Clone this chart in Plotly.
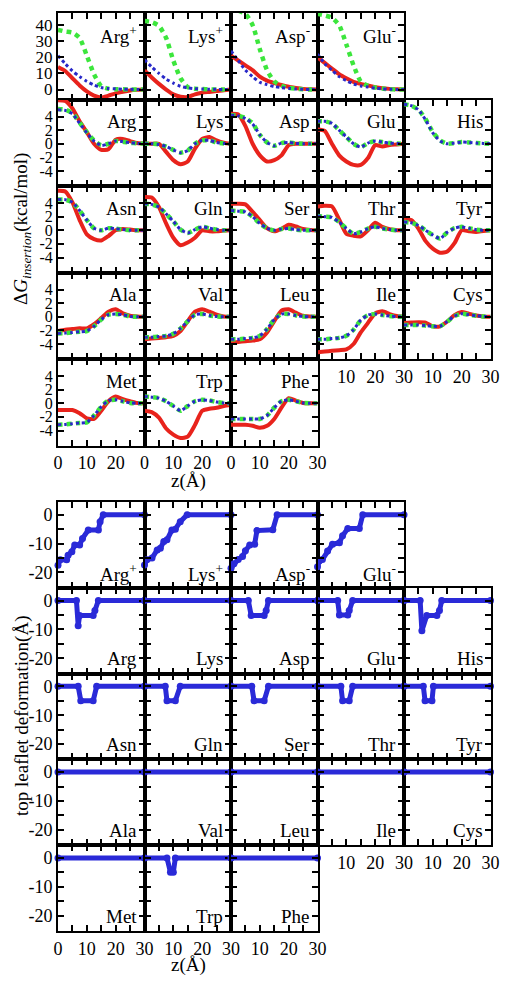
import plotly.graph_objects as go

W, H = 512, 986

# ---------------- data ----------------
Z = [0, 2.5, 5, 7.5, 10, 12.5, 15, 17.5, 20, 22.5, 25, 27.5, 30]

grid = [["Arg+", "Lys+", "Asp-", "Glu-", None],
        ["Arg", "Lys", "Asp", "Glu", "His"],
        ["Asn", "Gln", "Ser", "Thr", "Tyr"],
        ["Ala", "Val", "Leu", "Ile", "Cys"],
        ["Met", "Trp", "Phe", None, None]]

labels = {"Arg+": "Arg<sup>+</sup>", "Lys+": "Lys<sup>+</sup>",
          "Asp-": "Asp<sup>-</sup>", "Glu-": "Glu<sup>-</sup>"}

red_dG = {
    "Arg+": [14, 11.5, 7, 2.5, -1.2, -3.8, -5, -3.8, -2.4, -1.4, -0.6, -0.2, 0],
    "Lys+": [11.8, 7.5, 3.5, 0, -3, -4.5, -4.7, -3, -2, -1.5, -1, -0.4, 0],
    "Asp-": [21, 18, 15, 12, 8, 5.5, 4, 2.8, 1.7, 1, 0.4, 0.1, 0],
    "Glu-": [20, 16.5, 13, 9.5, 7, 4.8, 3.5, 2.5, 1.5, 0.8, 0.4, 0.1, 0],
    "Arg": [6.4, 6.3, 5.2, 3.3, 1.7, 0, -0.9, -0.8, 0.6, 0.7, 0.4, 0.1, 0],
    "Lys": [0, 0, 0, -1.2, -2.4, -3.0, -2.6, -0.7, 0.7, 1.0, 0.5, 0.15, 0],
    "Asp": [4.4, 4.3, 2.6, 0, -1.7, -2.6, -2.4, -1.7, -0.2, 0, 0, 0, 0],
    "Glu": [2.1, 1.9, 0, -1.7, -2.6, -3.1, -3.1, -2.1, -0.2, -0.4, -0.2, -0.1, 0],
    "Asn": [5.8, 5.7, 4.1, 1.5, -0.6, -1.3, -1.5, -0.85, 0, 0.2, 0.1, 0, 0],
    "Gln": [4.9, 4.8, 3.4, 1.0, -1.1, -2.2, -1.8, -1.1, 0, -0.15, -0.15, -0.05, 0],
    "Ser": [3.9, 3.9, 3.8, 2.7, 1.5, 0.3, -0.15, 0.2, 0.8, 0.55, 0.2, 0.05, 0],
    "Thr": [3.5, 3.6, 3.5, 1.6, -0.5, -0.8, -0.9, 0, 1.1, 0.5, 0.15, 0, 0],
    "Tyr": [1.7, 1.5, 0.25, -1.6, -2.7, -3.3, -3.1, -1.9, 0, -0.15, -0.25, -0.1, 0],
    "Ala": [-2.1, -1.9, -1.8, -1.7, -1.7, -1.1, -0.2, 0.75, 1.1, 0.5, 0.15, 0.05, 0],
    "Val": [-3.3, -3.2, -3.1, -3.0, -2.8, -2.1, -0.65, 0.75, 1.1, 0.75, 0.3, 0.05, 0],
    "Leu": [-3.8, -3.7, -3.6, -3.5, -3.3, -2.3, -0.65, 0.9, 1.1, 0.6, 0.15, 0.05, 0],
    "Ile": [-5.2, -5.1, -5.0, -4.9, -4.8, -4.0, -2.3, -0.9, 0.5, 0.8, 0.4, 0.1, 0],
    "Cys": [-0.9, -0.85, -0.8, -0.85, -1.4, -1.4, -0.7, 0.25, 0.7, 0.45, 0.2, 0.05, 0],
    "Met": [-1.0, -1.0, -1.0, -1.45, -2.2, -2.3, -1.1, 0.3, 1.0, 0.6, 0.3, 0.05, 0],
    "Trp": [-1.1, -1.3, -2.1, -3.7, -4.6, -5.1, -4.9, -3.2, -1.1, -0.8, -0.65, -0.4, -0.2],
    "Phe": [-3.15, -3.15, -3.15, -3.3, -3.6, -3.3, -2.3, -0.65, 0.75, 0.4, 0.05, 0, 0],
}

green_dG = {
    "Arg+": [37, 36, 35.3, 32, 21, 9.5, 2, 0.5, 0.2, 0.1, 0, 0, 0],
    "Lys+": [42.5, 41.8, 39.5, 32, 18, 7, 1.5, 0.5, 0.3, 0.1, 0, 0, 0],
    "Asp-": [52, 49, 47, 40, 25, 12, 5, 2.3, 1, 0.5, 0.2, 0, 0],
    "Glu-": [47, 46, 44.5, 40, 28, 15, 5, 2.3, 1.2, 0.6, 0.2, 0, 0],
    "Arg": [5.1, 5.0, 4.5, 3.1, 1.7, 0.5, -0.2, 0, 0.4, 0.3, 0.15, 0.05, 0],
    "Lys": [0, 0, -0.1, -0.4, -0.9, -1.3, -1.0, 0, 0.5, 0.5, 0.2, 0.05, 0],
    "Asp": [4.2, 4.1, 3.8, 3.0, 1.3, 0.2, -0.3, 0.1, 0.2, 0.05, 0, 0, 0],
    "Glu": [3.3, 3.3, 3.0, 2.0, 1.0, 0, -0.5, 0.1, 0.4, 0.25, 0.1, 0.05, 0],
    "His": [5.8, 5.6, 5.0, 3.6, 1.7, 0.5, 0, 0.1, 0.25, 0.2, 0.1, 0.05, 0],
    "Asn": [4.5, 4.5, 4.1, 2.9, 1.5, 0.3, 0, 0.3, 0.25, 0.1, 0, 0, 0],
    "Gln": [3.9, 3.8, 3.4, 2.4, 1.3, 0.1, -0.4, 0.1, 0.5, 0.3, 0.1, 0, 0],
    "Ser": [2.9, 2.8, 2.7, 2.0, 1.0, 0.3, 0, 0.2, 0.25, 0.1, 0, 0, 0],
    "Thr": [2.1, 2.0, 1.9, 1.2, 0.25, -0.5, -0.25, 0.25, 0.5, 0.25, 0.1, 0, 0],
    "Tyr": [1.2, 1.1, 0.7, 0, -0.7, -1.2, -0.3, 0.3, 0.5, 0.3, 0.1, 0, 0],
    "Ala": [-2.45, -2.4, -2.3, -2.2, -2.1, -1.4, -0.4, 0.3, 0.4, 0.3, 0.05, 0, 0],
    "Val": [-3.0, -3.0, -2.9, -2.8, -2.5, -1.7, -0.65, 0.3, 0.4, 0.2, 0.05, 0, 0],
    "Leu": [-3.3, -3.3, -3.2, -3.1, -2.8, -1.8, -0.4, 0.4, 0.4, 0.2, 0.05, 0, 0],
    "Ile": [-3.3, -3.3, -3.2, -3.1, -2.8, -1.9, -0.5, 0.25, 0.4, 0.25, 0.1, 0, 0],
    "Cys": [-1.2, -1.2, -1.2, -1.3, -1.4, -1.4, -0.7, 0.1, 0.45, 0.3, 0.15, 0.05, 0],
    "Met": [-3.15, -3.1, -3.0, -2.9, -2.8, -1.8, -0.5, 0.4, 0.5, 0.3, 0.05, 0, 0],
    "Trp": [1.0, 0.9, 0.75, 0.3, -0.4, -1.1, -0.4, 0.3, 0.5, 0.4, 0.2, 0.05, 0],
    "Phe": [-2.3, -2.3, -2.3, -2.3, -2.3, -1.8, -0.65, 0.3, 0.5, 0.3, 0.05, 0, 0],
}

blue_dG = {
    "Arg+": [21, 16, 11.5, 8, 5, 2.8, 1.2, 0.6, 0.4, 0.2, 0.1, 0, 0],
    "Lys+": [18.5, 14, 10, 6.5, 4, 2, 1, 0.5, 0.3, 0.2, 0.1, 0, 0],
    "Asp-": [24, 18, 12, 8, 4.5, 3, 1.8, 1.2, 0.7, 0.3, 0.1, 0, 0],
    "Glu-": [22, 16, 12, 8, 5.5, 3.5, 2.2, 1.5, 0.8, 0.4, 0.2, 0, 0],
    "Arg": [5.0, 4.9, 4.4, 3.0, 1.6, 0.4, -0.25, 0, 0.4, 0.3, 0.15, 0.05, 0],
    "Lys": [0, 0, -0.1, -0.4, -0.9, -1.3, -1.0, 0, 0.5, 0.5, 0.2, 0.05, 0],
    "Asp": [4.2, 4.1, 3.7, 2.9, 1.3, 0.2, -0.3, 0.1, 0.2, 0.05, 0, 0, 0],
    "Glu": [3.3, 3.3, 3.0, 2.0, 1.0, 0, -0.5, 0.1, 0.4, 0.25, 0.1, 0.05, 0],
    "His": [5.8, 5.6, 5.0, 3.5, 1.6, 0.4, 0, 0.1, 0.25, 0.2, 0.1, 0.05, 0],
    "Asn": [4.5, 4.5, 4.1, 2.9, 1.5, 0.3, 0, 0.3, 0.25, 0.1, 0, 0, 0],
    "Gln": [3.9, 3.8, 3.4, 2.4, 1.3, 0.1, -0.4, 0.1, 0.5, 0.3, 0.1, 0, 0],
    "Ser": [2.9, 2.8, 2.7, 2.0, 1.0, 0.3, 0, 0.2, 0.25, 0.1, 0, 0, 0],
    "Thr": [2.1, 2.0, 1.9, 1.2, 0.25, -0.5, -0.25, 0.25, 0.5, 0.25, 0.1, 0, 0],
    "Tyr": [1.2, 1.1, 0.7, 0, -0.7, -1.2, -0.3, 0.3, 0.5, 0.3, 0.1, 0, 0],
    "Ala": [-2.45, -2.4, -2.3, -2.2, -2.1, -1.4, -0.4, 0.3, 0.4, 0.3, 0.05, 0, 0],
    "Val": [-3.0, -3.0, -2.9, -2.8, -2.5, -1.7, -0.65, 0.3, 0.4, 0.2, 0.05, 0, 0],
    "Leu": [-3.3, -3.3, -3.2, -3.1, -2.8, -1.8, -0.4, 0.4, 0.4, 0.2, 0.05, 0, 0],
    "Ile": [-3.3, -3.3, -3.2, -3.1, -2.8, -1.9, -0.5, 0.25, 0.4, 0.25, 0.1, 0, 0],
    "Cys": [-1.2, -1.2, -1.2, -1.3, -1.4, -1.4, -0.7, 0.1, 0.45, 0.3, 0.15, 0.05, 0],
    "Met": [-3.15, -3.1, -3.0, -2.9, -2.8, -1.8, -0.5, 0.4, 0.5, 0.3, 0.05, 0, 0],
    "Trp": [1.0, 0.9, 0.75, 0.3, -0.4, -1.1, -0.4, 0.3, 0.5, 0.4, 0.2, 0.05, 0],
    "Phe": [-2.3, -2.3, -2.3, -2.3, -2.3, -1.8, -0.65, 0.3, 0.5, 0.3, 0.05, 0, 0],
}

defo_x = {
    "Arg+": [0, 0.8, 3, 3.5, 4.8, 5.8, 7.5, 8.5, 10.5, 14, 14.6, 15.7, 30],
    "Lys+": [0, 0.8, 2.6, 4.4, 5.5, 6.7, 7.8, 9.5, 10.7, 12.4, 14.8, 30],
    "Asp-": [0, 1, 2.5, 4, 5, 6.5, 8.2, 9, 14.5, 16, 30],
    "Glu-": [0, 0.6, 1.7, 3.5, 5.2, 7.6, 8.7, 10.5, 14.5, 15.7, 30],
    "Arg": [0, 6.4, 7, 7.5, 12.2, 12.8, 14, 30],
    "Lys": [0, 30],
    "Asp": [0, 6, 7, 11.5, 12.2, 13, 30],
    "Glu": [0, 7, 7.6, 10.5, 11, 12.2, 30],
    "His": [0, 5.6, 6.2, 7.9, 11.4, 12.3, 13.1, 30],
    "Asn": [0, 7, 7.9, 12.2, 13.4, 30],
    "Gln": [0, 7.2, 7.8, 10.7, 12.4, 30],
    "Ser": [0, 7.2, 8, 11.5, 13, 30],
    "Thr": [0, 8.1, 8.7, 11, 12.2, 30],
    "Tyr": [0, 6.7, 7.3, 9.7, 10.2, 30],
    "Ala": [0, 30], "Val": [0, 30], "Leu": [0, 30], "Ile": [0, 30], "Cys": [0, 30],
    "Met": [0, 30],
    "Trp": [0, 7.8, 9, 10, 10.7, 30],
    "Phe": [0, 30],
}
defo_y = {
    "Arg+": [-17.5, -15.6, -15.6, -14, -12.8, -10.5, -10.5, -8.2, -5.3, -5.3, -2.4, 0, 0],
    "Lys+": [-17.4, -15.6, -15, -12.2, -11.6, -9.3, -8.7, -5.3, -5, -2.4, 0, 0],
    "Asp-": [-18.5, -17, -15.5, -14.5, -12.5, -10.5, -10.2, -5.5, -5.2, 0, 0],
    "Glu-": [-18, -16, -15.5, -12.6, -10.2, -9.7, -7.3, -4.8, -4.8, 0, 0],
    "Arg": [0, 0, -8.7, -5.2, -5.2, -3.5, 0, 0],
    "Lys": [0, 0],
    "Asp": [0, 0, -5.2, -5.2, -3.5, 0, 0],
    "Glu": [0, 0, -5, -5, -3.5, 0, 0],
    "His": [0, 0, -10.5, -5.2, -5.2, -3.5, 0, 0],
    "Asn": [0, 0, -5, -5, 0, 0],
    "Gln": [0, 0, -5, -5, 0, 0],
    "Ser": [0, 0, -5, -5, 0, 0],
    "Thr": [0, 0, -5, -5, 0, 0],
    "Tyr": [0, 0, -5, -5, 0, 0],
    "Ala": [0, 0], "Val": [0, 0], "Leu": [0, 0], "Ile": [0, 0], "Cys": [0, 0],
    "Met": [0, 0],
    "Trp": [0, 0, -5, -5, 0, 0],
    "Phe": [0, 0],
}

x_tickvals = [0, 5, 10, 15, 20, 25, 30]
y_top_vals = [0, 10, 20, 30, 40]
y_top_text = ["0", "10", "20", "30", "40"]
y_mid_vals = [-4, -2, 0, 2, 4]
y_mid_text = ["-4", "-2", "0", "2", "4"]
y_def_vals = [-20, -15, -10, -5, 0]
y_def_text = ["-20", " ", "-10", " ", "0"]

# x tick labels on the lowest panels
top_xlab = {"Met": ["0", " ", "10", " ", "20", " ", " "],
            "Trp": ["0", " ", "10", " ", "20", " ", " "],
            "Phe": ["0", " ", "10", " ", "20", " ", "30"],
            "Ile": [" ", " ", "10", " ", "20", " ", "30"],
            "Cys": [" ", " ", "10", " ", "20", " ", "30"]}
bot_xlab = {"Met": ["0", " ", "10", " ", "20", " ", "30"],
            "Trp": [" ", " ", "10", " ", "20", " ", "30"],
            "Phe": [" ", " ", "10", " ", "20", " ", "30"],
            "Ile": [" ", " ", "10", " ", "20", " ", "30"],
            "Cys": [" ", " ", "10", " ", "20", " ", "30"]}

# ---------------- figure ----------------
FONT = "Liberation Serif"
RED = "#e8231c"
GREEN = "#3ce63c"
BLUE = "#2828c8"
DBLUE = "#2a2ad8"

col_x = [58 + i * 86.5 for i in range(6)]
top_y = [13 + j * 86.5 for j in range(6)]
bot_y = [502 + j * 85.8 for j in range(6)]

fig = go.Figure()
ax = 0
annotations = []


def axis_common(fs=18):
    return dict(showline=True, linecolor="black", linewidth=2, mirror="ticks",
                ticks="inside", ticklen=6, tickwidth=2, tickcolor="black",
                showgrid=False, zeroline=False, automargin=False,
                tickfont=dict(family=FONT, size=fs, color="black"))


for part in ("top", "bot"):
    rows_y = top_y if part == "top" else bot_y
    for r in range(5):
        for c in range(5):
            name = grid[r][c]
            if name is None:
                continue
            ax += 1
            xa = "x" if ax == 1 else f"x{ax}"
            ya = "y" if ax == 1 else f"y{ax}"
            x0, x1 = col_x[c], col_x[c + 1]
            y0, y1 = rows_y[r], rows_y[r + 1]
            xd = dict(axis_common(18), domain=[x0 / W, x1 / W], range=[0, 30],
                      anchor=ya, tickvals=x_tickvals, ticklabelstandoff=0)
            labmap = top_xlab if part == "top" else bot_xlab
            if name in labmap:
                xd["ticktext"] = labmap[name]
                xd["showticklabels"] = True
            else:
                xd["showticklabels"] = False
            if part == "top":
                fs = 17 if r == 0 else 16
            else:
                fs = 18
            yd = dict(axis_common(fs), domain=[1 - y1 / H, 1 - y0 / H], anchor=xa,
                      ticklabelstandoff=0)
            if part == "top":
                if r == 0:
                    yd.update(range=[-6.2, 47.5], tickvals=y_top_vals, ticktext=y_top_text)
                else:
                    yd.update(range=[-6.2, 6.5], tickvals=y_mid_vals, ticktext=y_mid_text)
            else:
                yd.update(range=[-25.3, 4.4], tickvals=y_def_vals, ticktext=y_def_text)
            yd["showticklabels"] = (c == 0)
            fig.update_layout(**{("xaxis" if ax == 1 else f"xaxis{ax}"): xd,
                                 ("yaxis" if ax == 1 else f"yaxis{ax}"): yd})

            disp = labels.get(name, name)
            if part == "top":
                if name in red_dG:
                    fig.add_trace(go.Scatter(x=Z, y=red_dG[name], mode="lines",
                                             line=dict(color=RED, width=4, shape="spline", smoothing=0.6),
                                             xaxis=xa, yaxis=ya, showlegend=False))
                fig.add_trace(go.Scatter(x=Z, y=green_dG[name], mode="lines",
                                         line=dict(color=GREEN, width=4.5, dash="dot", shape="spline", smoothing=0.6),
                                         xaxis=xa, yaxis=ya, showlegend=False))
                fig.add_trace(go.Scatter(x=Z, y=blue_dG[name], mode="lines",
                                         line=dict(color=BLUE, width=3, dash="dot", shape="spline", smoothing=0.6),
                                         xaxis=xa, yaxis=ya, showlegend=False))
                annotations.append(dict(x=(x1 - 6) / W, y=1 - (y0 + 22) / H, xref="paper", yref="paper",
                                        text=disp, showarrow=False, xanchor="right", yanchor="middle",
                                        font=dict(family=FONT, size=19, color="black")))
            else:
                fig.add_trace(go.Scatter(x=defo_x[name], y=defo_y[name], mode="lines+markers",
                                         line=dict(color=DBLUE, width=5),
                                         marker=dict(color=DBLUE, size=7),
                                         cliponaxis=False,
                                         xaxis=xa, yaxis=ya, showlegend=False))
                annotations.append(dict(x=(x1 - 6) / W, y=1 - (y1 - 15) / H, xref="paper", yref="paper",
                                        text=disp, showarrow=False, xanchor="right", yanchor="middle",
                                        font=dict(family=FONT, size=19, color="black")))

annotations += [
    dict(x=22 / W, y=1 - 229 / H, xref="paper", yref="paper",
         text="\u0394<i>G</i><sub><i>insertion</i></sub>(kcal/mol)", textangle=-90,
         xanchor="center", yanchor="middle",
         showarrow=False, font=dict(family=FONT, size=19, color="black")),
    dict(x=188 / W, y=1 - 481 / H, xref="paper", yref="paper", text="z(\u00c5)",
         xanchor="center", yanchor="middle",
         showarrow=False, font=dict(family=FONT, size=19, color="black")),
    dict(x=22 / W, y=1 - 716 / H, xref="paper", yref="paper",
         text="top leaflet deformation(\u00c5)", textangle=-90,
         xanchor="center", yanchor="middle",
         showarrow=False, font=dict(family=FONT, size=19, color="black")),
    dict(x=188 / W, y=1 - 965 / H, xref="paper", yref="paper", text="z(\u00c5)",
         xanchor="center", yanchor="middle",
         showarrow=False, font=dict(family=FONT, size=19, color="black")),
]

fig.update_layout(width=W, height=H, margin=dict(l=0, r=0, t=0, b=0),
                  paper_bgcolor="white", plot_bgcolor="white",
                  annotations=annotations, showlegend=False)

fig.write_html("out.html", config={"displayModeBar": False},
               post_script="document.body.style.margin='0';document.body.style.overflow='hidden';")
